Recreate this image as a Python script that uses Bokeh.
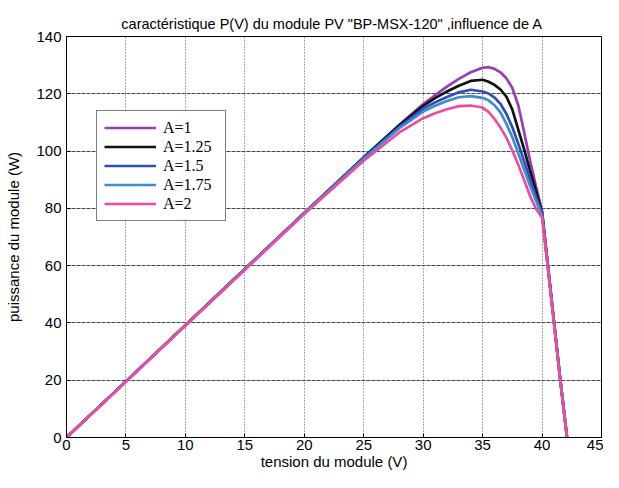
from bokeh.plotting import figure
from bokeh.models import Range1d, FixedTicker, Legend, LegendItem
from bokeh.embed import file_html
from bokeh.resources import INLINE

# ---- data ----
tension = [0, 5, 10, 15, 20, 25, 28, 30, 31, 32, 33, 34, 35, 35.5, 36, 36.5,
           37, 37.5, 38, 38.5, 39, 39.5, 40, 40.5, 41, 41.5, 42.1]

p_a1 = [0, 19.6, 39.2, 58.8, 78.4, 97.8, 109.2, 116.4, 119.5, 122.5, 125.2, 127.5,
        129.1, 129.3, 128.7, 127.5, 125.4, 122.0, 116.0, 106.5, 96.5, 87.5,
        79.0, 59.8, 40.6, 21.5, 0]
p_a125 = [0, 19.6, 39.2, 58.8, 78.4, 97.8, 109.0, 115.8, 118.5, 120.8, 122.8, 124.5,
          124.9, 124.2, 123.1, 121.5, 119.0, 114.5, 107.5, 100.5, 93.0, 86.0,
          78.6, 59.6, 40.5, 21.4, 0]
p_a15 = [0, 19.6, 39.2, 58.8, 78.4, 97.6, 108.5, 114.8, 117.0, 118.9, 120.5, 121.4,
         120.8, 120.1, 118.7, 116.5, 113.0, 108.3, 102.6, 96.4, 90.0, 84.0,
         78.2, 59.4, 40.4, 21.3, 0]
p_a175 = [0, 19.6, 39.2, 58.8, 78.3, 97.3, 108.0, 113.8, 115.8, 117.5, 118.8, 119.2,
          118.6, 117.7, 116.0, 113.5, 109.5, 104.8, 99.2, 93.5, 87.8, 82.6,
          77.6, 59.2, 40.3, 21.2, 0]
p_a2 = [0, 19.5, 39.0, 58.5, 78.0, 96.6, 106.5, 111.5, 113.2, 114.6, 115.7, 115.9,
        115.2, 113.7, 111.2, 108.2, 104.7, 100.2, 95.2, 89.8, 84.2, 79.8,
        76.8, 58.8, 40.0, 21.0, 0]

labels = ["A=1", "A=1.25", "A=1.5", "A=1.75", "A=2"]
colors = ["#9a3cb4", "#111111", "#2a4fb8", "#3d8bd2", "#ee4c9e"]
series = [p_a1, p_a125, p_a15, p_a175, p_a2]

x_ticks = [0, 5, 10, 15, 20, 25, 30, 35, 40, 45]
y_ticks = [0, 20, 40, 60, 80, 100, 120, 140]

FONT = "Liberation Sans"

p = figure(width=603, height=472, output_backend="svg", toolbar_location=None,
           x_range=Range1d(0, 45), y_range=Range1d(0, 140),
           min_border_left=66, min_border_right=2, min_border_top=36,
           min_border_bottom=35,
           title='caractéristique P(V) du  module PV "BP-MSX-120" ,influence de A')

p.title.text_font = FONT
p.title.text_font_size = "14.5px"
p.title.text_font_style = "normal"
p.title.align = "center"
p.title.text_color = "black"
p.title.offset = 0
p.title.standoff = 9

p.outline_line_color = "black"
p.outline_line_width = 1
p.background_fill_color = "white"
p.border_fill_color = "white"

for ax in (p.xaxis[0], p.yaxis[0]):
    ax.axis_line_color = "black"
    ax.major_tick_in = 4
    ax.major_tick_out = 0
    ax.minor_tick_line_color = None
    ax.major_label_text_font = FONT
    ax.major_label_text_font_size = "15px"
    ax.major_label_text_color = "black"
    ax.axis_label_text_font = FONT
    ax.axis_label_text_font_size = "15px"
    ax.axis_label_text_font_style = "normal"
    ax.axis_label_text_color = "black"

p.xaxis.ticker = FixedTicker(ticks=x_ticks)
p.yaxis.ticker = FixedTicker(ticks=y_ticks)
p.xaxis.axis_label = "tension du module (V)"
p.yaxis.axis_label = "puissance du module (W)"
p.xaxis.major_label_standoff = 2
p.xaxis.axis_label_standoff = 0
p.yaxis.major_label_standoff = 5
p.yaxis.axis_label_standoff = 11

p.xgrid.grid_line_color = "#555555"
p.xgrid.grid_line_dash = "1 2"
p.xgrid.grid_line_width = 1
p.ygrid.grid_line_color = "#444444"
p.ygrid.grid_line_dash = "4 1"
p.ygrid.grid_line_width = 1

items = []
for lab, col, vals in zip(labels, colors, series):
    r = p.line(tension, vals, line_color=col, line_width=2.7)
    items.append(LegendItem(label=lab, renderers=[r]))

legend = Legend(items=items, location=(30, 216))
legend.label_text_font = "Liberation Serif"
legend.label_text_font_size = "16px"
legend.label_text_color = "black"
legend.glyph_width = 52
legend.glyph_height = 19
legend.label_height = 19
legend.label_width = 55
legend.label_standoff = 7
legend.padding = 7
legend.spacing = 0
legend.margin = 0
legend.border_line_color = "black"
legend.border_line_width = 1
legend.background_fill_color = "white"
legend.background_fill_alpha = 1
p.add_layout(legend, "center")

open("out.html", "w").write(file_html(p, INLINE))
